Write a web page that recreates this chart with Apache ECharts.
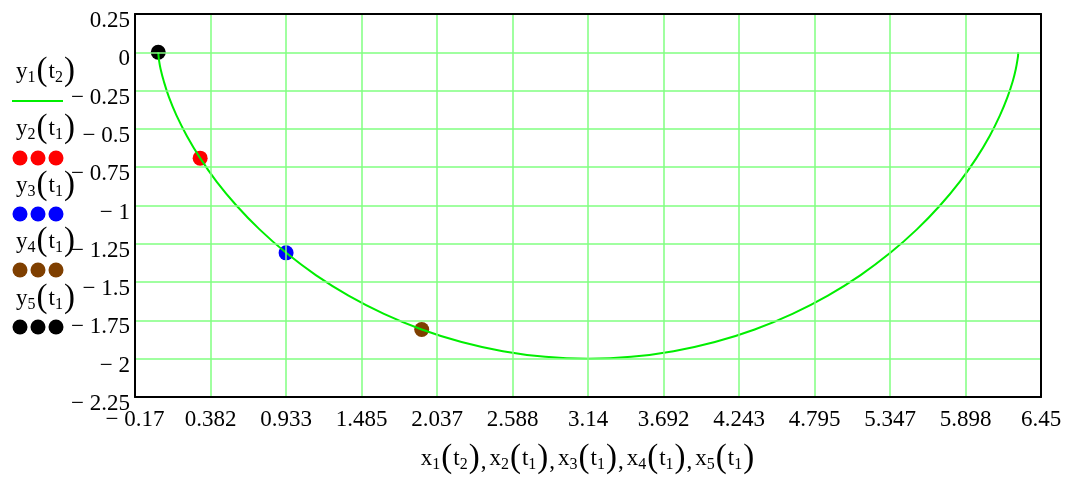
<!DOCTYPE html>
<html>
<head>
<meta charset="utf-8">
<script src="https://cdn.jsdelivr.net/npm/echarts@6/dist/echarts.min.js"></script>
<style>
  html, body { margin: 0; padding: 0; background: #fff; }
  #chart { width: 1068px; height: 481px; }
</style>
</head>
<body>
<div id="chart"></div>
<script>
// curve y1(t2) vs x1(t2)
const curveX = [0, 0.001, 0.005, 0.017, 0.041, 0.078, 0.133, 0.209, 0.306, 0.426,
  0.571, 0.740, 0.934, 1.151, 1.390, 1.649, 1.925, 2.216, 2.518, 2.828,
  3.142, 3.455, 3.765, 4.067, 4.358, 4.634, 4.893, 5.132, 5.349, 5.543,
  5.712, 5.857, 5.978, 6.075, 6.150, 6.205, 6.243, 6.266, 6.278, 6.283, 6.283]
const curveY = [0, -0.012, -0.049, -0.109, -0.191, -0.293, -0.412, -0.546, -0.691, -0.844,
  -1, -1.156, -1.309, -1.454, -1.588, -1.707, -1.809, -1.891, -1.951, -1.988,
  -2, -1.988, -1.951, -1.891, -1.809, -1.707, -1.588, -1.454, -1.309, -1.156,
  -1, -0.844, -0.691, -0.546, -0.412, -0.293, -0.191, -0.109, -0.049, -0.012, 0]

// single points y2..y5 at t1
const x2 = [0.306], y2 = [-0.691]
const x3 = [0.934], y3 = [-1.309]
const x4 = [1.925], y4 = [-1.809]
const x5 = [0], y5 = [0]

const xTicks = ['− 0.17','0.382','0.933','1.485','2.037','2.588','3.14','3.692','4.243','4.795','5.347','5.898','6.45']
const legendNames = [['y',1,2],['y',2,1],['y',3,1],['y',4,1],['y',5,1]]

const FONT = 'Liberation Serif'
const zip = (a, b) => a.map((v, i) => [v, b[i]])
const fn = (v, i, j) => `{v|${v}}{s|${i}}{p|(}{v|t}{s|${j}}{p|)}`
const rich = {
  v: { fontFamily: FONT, fontSize: 23, color: '#000' },
  s: { fontFamily: FONT, fontSize: 16, color: '#000', padding: [12, 0, 0, 0] },
  p: { fontFamily: FONT, fontSize: 33, color: '#000', padding: [0, 1, 0, 1] },
  c: { fontFamily: FONT, fontSize: 23, color: '#000', padding: [6, 3, 0, 0] }
}

const xMin = -0.17, xMax = 6.45
const myChart = echarts.init(document.getElementById('chart'))

const legendColors = ['#00ee00', '#ff0000', '#0000ff', '#7f3f00', '#000000']
const legendTop = [55, 112, 169, 225, 282]
const graphics = []
legendNames.forEach((n, k) => {
  graphics.push({
    type: 'text', left: 16, top: legendTop[k],
    style: { text: fn(n[0], n[1], n[2]), rich: rich }
  })
  const cy = [0, 158, 214, 270, 327][k]
  if (k === 0) {
    graphics.push({ type: 'line', shape: { x1: 12, y1: 101, x2: 63, y2: 101 },
      style: { stroke: legendColors[0], lineWidth: 2 } })
  } else {
    [20, 38, 56].forEach(cx => graphics.push({
      type: 'circle', shape: { cx: cx, cy: cy, r: 7.5 },
      style: { fill: legendColors[k] } }))
  }
})

const frameAxis = { axisLine: { show: true, onZero: false, lineStyle: { color: '#000', width: 2 } },
  axisTick: { show: false }, axisLabel: { show: false }, splitLine: { show: false } }

myChart.setOption({
  backgroundColor: '#fff',
  animation: false,
  grid: { left: 135, right: 27, top: 14, bottom: 84 },
  graphic: graphics,
  xAxis: [{
    type: 'value',
    min: xMin, max: xMax,
    interval: (xMax - xMin) / 12,
    axisLine: { show: true, onZero: false, lineStyle: { color: '#000', width: 2 } },
    axisTick: { show: false },
    axisLabel: {
      fontFamily: FONT, fontSize: 23, color: '#000', margin: 11,
      showMinLabel: true, showMaxLabel: true,
      formatter: v => xTicks[Math.round((v - xMin) / ((xMax - xMin) / 12))]
    },
    splitLine: { show: true, lineStyle: { color: '#80ff80', width: 1.5 } },
    name: [fn('x',1,2), fn('x',2,1), fn('x',3,1), fn('x',4,1), fn('x',5,1)].join('{c|,}'),
    nameLocation: 'middle',
    nameGap: 45,
    nameTextStyle: { rich: rich },
    z: 5
  }, Object.assign({ type: 'value', position: 'top', min: xMin, max: xMax, z: 5 }, frameAxis)],
  yAxis: [{
    type: 'value',
    min: -2.25, max: 0.25, interval: 0.25,
    axisLine: { show: true, onZero: false, lineStyle: { color: '#000', width: 2 } },
    axisTick: { show: false },
    axisLabel: {
      fontFamily: FONT, fontSize: 23, color: '#000', margin: 5,
      formatter: v => '{a|' + (v === 0 ? '0' : (v < 0 ? '− ' + Math.abs(v) : String(v))) + '}',
      rich: { a: { fontFamily: FONT, fontSize: 23, color: '#000', padding: [14, 0, 0, 0] } }
    },
    splitLine: { show: true, lineStyle: { color: '#80ff80', width: 1.5 } },
    z: 5
  }, Object.assign({ type: 'value', position: 'right', min: -2.25, max: 0.25, z: 5 }, frameAxis)],
  series: [
    {
      name: 'y1(t2)', type: 'line', data: zip(curveX, curveY),
      smooth: 0.4, showSymbol: false, lineStyle: { color: '#00ee00', width: 2 }
    },
    { name: 'y2(t1)', type: 'scatter', data: zip(x2, y2), symbolSize: 15, itemStyle: { color: '#ff0000', opacity: 1 } },
    { name: 'y3(t1)', type: 'scatter', data: zip(x3, y3), symbolSize: 15, itemStyle: { color: '#0000ff', opacity: 1 } },
    { name: 'y4(t1)', type: 'scatter', data: zip(x4, y4), symbolSize: 15, itemStyle: { color: '#7f3f00', opacity: 1 } },
    { name: 'y5(t1)', type: 'scatter', data: zip(x5, y5), symbolSize: 15, itemStyle: { color: '#000000', opacity: 1 } }
  ]
})
myChart.resize()
</script>
</body>
</html>
